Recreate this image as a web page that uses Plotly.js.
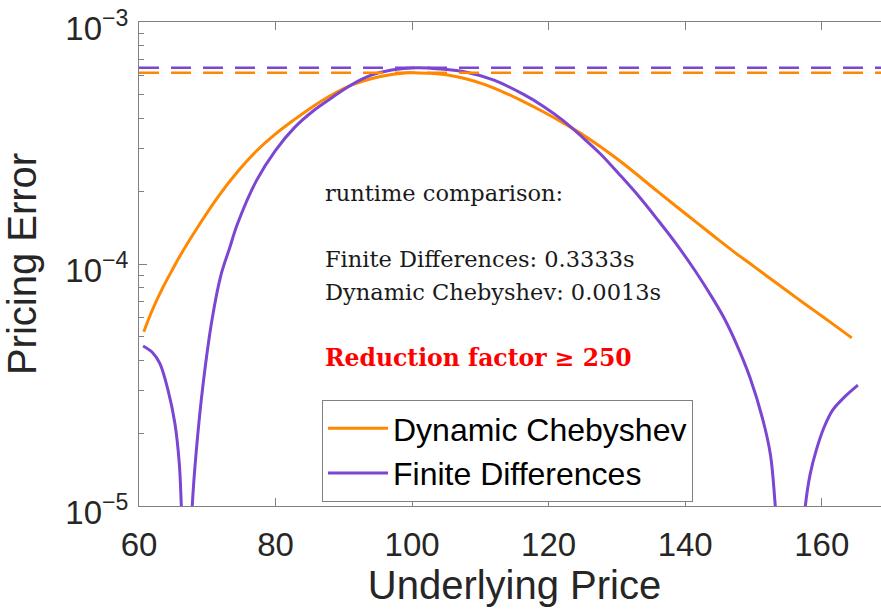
<!DOCTYPE html>
<html><head><meta charset="utf-8">
<script src="https://cdn.plot.ly/plotly-3.0.1.min.js"></script>
<style>html,body{margin:0;padding:0;overflow:hidden;background:#fff;width:881px;height:614px}#chart{width:892px;height:614px}</style>
</head><body><div id="chart"></div>
<script>
const chebX = [60.7, 62, 63.5, 65, 66, 68.8, 71.6, 74.4, 77.2, 80, 82.8, 85.6, 88.4, 91.2, 94, 96.8, 99.6, 102.4, 105.2, 108, 110.8, 113.6, 116.4, 119.2, 122, 124.8, 127.6, 130.4, 133.2, 136, 138.8, 141.6, 144.4, 147.2, 150, 152.5, 155, 157.7, 160, 162.5, 164.4];
const chebY = [5.25e-5, 6.5e-5, 8.0e-5, 9.6e-5, 1.08e-4, 1.45e-4, 1.9e-4, 2.4e-4, 2.93e-4, 3.45e-4, 3.96e-4, 4.5e-4, 5.03e-4, 5.5e-4, 5.83e-4, 6.05e-4, 6.17e-4, 6.14e-4, 6.04e-4, 5.82e-4, 5.5e-4, 5.1e-4, 4.68e-4, 4.26e-4, 3.85e-4, 3.45e-4, 3.05e-4, 2.67e-4, 2.31e-4, 1.99e-4, 1.72e-4, 1.49e-4, 1.29e-4, 1.12e-4, 9.8e-5, 8.69e-5, 7.71e-5, 6.79e-5, 6.1e-5, 5.42e-5, 4.95e-5];
const fdX = [60.6, 62, 63.05, 64.25, 65.25, 65.9, 66.2, 66.6, 67.4, 67.8, 68.4, 69.4, 70.7, 72, 73.3, 74.4, 77.2, 80, 82.8, 85.6, 88.4, 91.2, 94, 97, 100.7, 104, 108, 112, 116.4, 119.2, 122, 124.8, 127.6, 130.4, 133.2, 136, 138.8, 141.5, 143.5, 145.6, 147.5, 149.5, 151.4, 152.5, 153.2, 154, 156.8, 157.6, 158.3, 159.2, 160.3, 161.6, 163.5, 165.3];
const fdY = [4.58e-5, 4.3e-5, 3.88e-5, 3.01e-5, 2.2e-5, 1.5e-5, 1.0e-5, 5e-6, 5e-6, 1.0e-5, 1.7e-5, 3.21e-5, 5.9e-5, 9.0e-5, 1.17e-4, 1.46e-4, 2.21e-4, 2.95e-4, 3.67e-4, 4.31e-4, 4.9e-4, 5.52e-4, 6.03e-4, 6.34e-4, 6.47e-4, 6.4e-4, 6.2e-4, 5.75e-4, 5.01e-4, 4.49e-4, 3.94e-4, 3.37e-4, 2.85e-4, 2.34e-4, 1.905e-4, 1.52e-4, 1.2e-4, 9.33e-5, 7.62e-5, 6.05e-5, 4.68e-5, 3.39e-5, 2.26e-5, 1.62e-5, 1.0e-5, 5e-6, 5e-6, 1.0e-5, 1.35e-5, 1.7e-5, 2.1e-5, 2.49e-5, 2.85e-5, 3.16e-5];
const seriesNames = ['Dynamic Chebyshev', 'Finite Differences'];
const xTickVals = [60, 80, 100, 120, 140, 160];
const yTickVals = [1e-5, 1e-4, 1e-3];
const yTickText = ['10<sup>\u22125</sup>', '10<sup>\u22124</sup>', '10<sup>\u22123</sup>'];
const textLines = ['runtime comparison:', 'Finite Differences: 0.3333s', 'Dynamic Chebyshev: 0.0013s'];
const highlightText = '<b>Reduction factor ≥ 250</b>';

const ORANGE = '#ff8800', PURPLE = '#7a46d2', AX = '#808080';
const maxCheb = Math.max(...chebY), maxFd = Math.max(...fdY);
const xEnd = 170;

const minorVals = [];
[1e-5, 1e-4].forEach(d => { for (let k = 2; k <= 9; k++) minorVals.push(k * d); });

const traces = [
  {x: chebX, y: chebY, name: seriesNames[0], mode: 'lines', line: {color: ORANGE, width: 3, shape: 'spline', smoothing: 1}},
  {x: fdX, y: fdY, name: seriesNames[1], mode: 'lines', line: {color: PURPLE, width: 3, shape: 'spline', smoothing: 1}},
  {x: [60, xEnd], y: [maxCheb, maxCheb], mode: 'lines', showlegend: false, hoverinfo: 'skip', line: {color: ORANGE, width: 2.5, dash: '20px,12px'}},
  {x: [60, xEnd], y: [maxFd, maxFd], mode: 'lines', showlegend: false, hoverinfo: 'skip', line: {color: PURPLE, width: 2.5, dash: '20px,12px'}}
];

const sans = 'Liberation Sans, Arial, sans-serif';
const serif = 'DejaVu Serif, serif';
const py = v => (506 - v) / 484;
const px = v => (v - 139) / 751;

const annotations = [
  {text: textLines[0], x: px(323), y: py(193), size: 22.5},
  {text: textLines[1], x: px(323), y: py(259), size: 22.5},
  {text: textLines[2], x: px(323), y: py(292), size: 22.5},
  {text: highlightText, x: px(323), y: py(358), size: 23.5, color: '#ff0000'}
].map(a => ({text: a.text, x: a.x, y: a.y, xref: 'paper', yref: 'paper', xanchor: 'left', yanchor: 'middle', showarrow: false,
  font: {family: serif, size: a.size, color: a.color || '#1a1a1a'}}));

const layout = {
  width: 892, height: 614,
  margin: {l: 139, r: 2, t: 22, b: 108},
  paper_bgcolor: '#fff', plot_bgcolor: '#fff',
  showlegend: true,
  legend: {x: px(322), y: py(400), xanchor: 'left', yanchor: 'top', bgcolor: '#fff', bordercolor: AX, borderwidth: 1,
    font: {family: sans, size: 32, color: '#000'}, itemwidth: 60},
  xaxis: {range: [60, xEnd], tickmode: 'array', tickvals: xTickVals, ticks: 'inside', ticklen: 8, tickcolor: AX, tickwidth: 1,
    showline: true, linecolor: AX, linewidth: 1, mirror: 'ticks', showgrid: false, zeroline: false,
    ticklabelstandoff: 9, ticklabeloverflow: 'allow',
    tickfont: {family: sans, size: 33, color: '#262626'},
    title: {text: 'Underlying Price', font: {family: sans, size: 40, color: '#262626'}, standoff: 8}},
  yaxis: {type: 'log', range: [-5.0002, -2.9998], tickmode: 'array', tickvals: yTickVals, ticktext: yTickText, ticks: 'inside', ticklen: 8, tickcolor: AX, tickwidth: 1,
    minor: {tickmode: 'array', tickvals: minorVals, ticks: 'inside', ticklen: 5, tickcolor: AX, tickwidth: 1, showgrid: false},
    showline: true, linecolor: AX, linewidth: 1, mirror: 'ticks', showgrid: false, zeroline: false,
    ticklabeloverflow: 'allow', ticklabelshift: 6, ticklabelstandoff: 3,
    tickfont: {family: sans, size: 33, color: '#262626'},
    title: {text: 'Pricing Error', font: {family: sans, size: 40, color: '#262626'}, standoff: 17}},
  annotations: annotations
};

Plotly.newPlot('chart', traces, layout, {displayModeBar: false, staticPlot: true});
</script>
</body></html>
